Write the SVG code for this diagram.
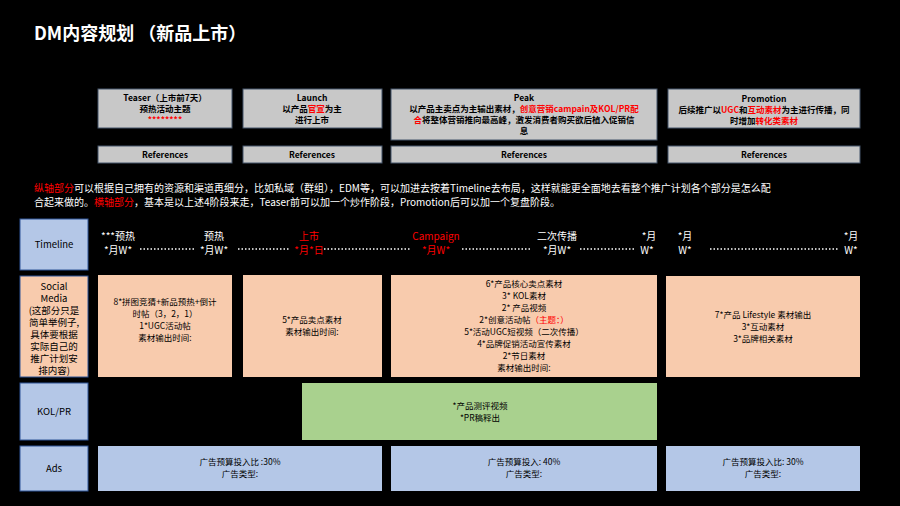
<svg xmlns="http://www.w3.org/2000/svg" width="900" height="506" viewBox="0 0 900 506">
<style>
text{font-family:"Noto Sans CJK SC","Liberation Sans",sans-serif;text-anchor:middle}
.h{fill:#c8c8c8;stroke:#44546a;stroke-width:1}
.ht{font-size:8.5px;fill:#000;font-weight:bold}
.lab{fill:#b4c7e7;stroke:#2f5597}
.labt{font-size:9.5px;fill:#000}
.o{fill:#f8cbad}
.g{fill:#a9d18e}
.b{fill:#b4c7e7}
.bt{font-size:8.5px;fill:#000}
.tl{font-size:10px;fill:#fff}
.red{fill:#ff0000}
.dot{stroke:#fff;stroke-width:1.5;stroke-dasharray:1.5 2}
</style>
<rect width="900" height="506" fill="#000"/>
<text x="34" y="40" style="text-anchor:start;font-size:18px;font-weight:bold;fill:#fff">DM内容规划 （新品上市）</text>
<g id="teaser"><rect class="h" x="98" y="89" width="134" height="39"/>
<text class="ht" x="165" y="101">Teaser（上市前7天）</text><text class="ht" x="165" y="112">预热活动主题</text><text class="ht red" x="165" y="123">********</text></g>
<g id="launch"><rect class="h" x="243" y="89" width="139" height="39"/>
<text class="ht" x="312" y="101">Launch</text><text class="ht" x="312" y="112">以产品<tspan class="red">官宣</tspan>为主</text><text class="ht" x="312" y="123">进行上市</text></g>
<g id="peak"><rect class="h" x="391" y="89" width="266" height="51"/>
<text class="ht" x="524" y="101">Peak</text>
<text class="ht" x="524" y="112">以产品主卖点为主输出素材，<tspan class="red">创意营销campain及KOL/PR配</tspan></text>
<text class="ht" x="524" y="123"><tspan class="red">合</tspan>将整体营销推向最高峰，激发消费者购买欲后植入促销信</text>
<text class="ht" x="524" y="134">息</text></g>
<g id="promotion"><rect class="h" x="668" y="89" width="192" height="39"/>
<text class="ht" x="764" y="102">Promotion</text>
<text class="ht" x="764" y="113">后续推广以<tspan class="red">UGC</tspan>和<tspan class="red">互动素材</tspan>为主进行传播，同</text>
<text class="ht" x="764" y="124">时增加<tspan class="red">转化类素材</tspan></text></g>
<g id="refs">
<rect class="h" x="98" y="146" width="134" height="17"/><text class="ht" x="165" y="158">References</text>
<rect class="h" x="243" y="146" width="139" height="17"/><text class="ht" x="312" y="158">References</text>
<rect class="h" x="391" y="146" width="266" height="17"/><text class="ht" x="524" y="158">References</text>
<rect class="h" x="668" y="146" width="192" height="17"/><text class="ht" x="764" y="158">References</text></g>
<g id="note" style="font-size:10px;fill:#fff">
<text x="34" y="192" style="text-anchor:start"><tspan class="red">纵轴部分</tspan>可以根据自己拥有的资源和渠道再细分，比如私域（群组），EDM等，可以加进去按着Timeline去布局，这样就能更全面地去看整个推广计划各个部分是怎么配</text>
<text x="34" y="206" style="text-anchor:start">合起来做的。<tspan class="red">横轴部分</tspan>，基本是以上述4阶段来走，Teaser前可以加一个炒作阶段，Promotion后可以加一个复盘阶段。</text></g>
<g id="labels">
<rect class="lab" x="20" y="219" width="68" height="51"/><text class="labt" x="54" y="248">Timeline</text>
<rect class="lab" x="20" y="276" width="68" height="101" style="fill:#f8cbad"/>
<text class="labt" x="54" y="290">Social</text><text class="labt" x="54" y="302">Media</text>
<text class="labt" x="54" y="314">(这部分只是</text><text class="labt" x="54" y="326">简单举例子,</text><text class="labt" x="54" y="338">具体要根据</text><text class="labt" x="54" y="350">实际自己的</text><text class="labt" x="54" y="362">推广计划安</text><text class="labt" x="54" y="374">排内容)</text>
<rect class="lab" x="20" y="383" width="68" height="57"/><text class="labt" x="54" y="415">KOL/PR</text>
<rect class="lab" x="20" y="446" width="68" height="45"/><text class="labt" x="54" y="472">Ads</text></g>
<g id="timeline">
<text class="tl" x="118" y="240">***预热</text><text class="tl" x="118" y="254">*月W*</text>
<text class="tl" x="214" y="240">预热</text><text class="tl" x="214" y="254">*月W*</text>
<text class="tl red" x="309" y="240">上市</text><text class="tl red" x="309" y="254">*月*日</text>
<text class="tl red" x="436" y="240">Campaign</text><text class="tl red" x="436" y="254">*月W*</text>
<text class="tl" x="557" y="240">二次传播</text><text class="tl" x="557" y="254">*月W*</text>
<text class="tl" x="649" y="240">*月</text><text class="tl" x="647" y="254">W*</text>
<text class="tl" x="685" y="240">*月</text><text class="tl" x="685" y="254">W*</text>
<text class="tl" x="851" y="240">*月</text><text class="tl" x="851" y="254">W*</text></g>
<g id="connectors">
<line class="dot" x1="140" y1="249" x2="195" y2="249"/>
<line class="dot" x1="238" y1="249" x2="290" y2="249"/>
<line class="dot" x1="324" y1="249" x2="410" y2="249"/>
<line class="dot" x1="462" y1="249" x2="530" y2="249"/>
<line class="dot" x1="580" y1="249" x2="636" y2="249"/>
<line class="dot" x1="710" y1="249" x2="838" y2="249"/></g>
<g id="social">
<rect class="o" x="98" y="275" width="134" height="102"/>
<text class="bt" x="165" y="305">8*拼图竞猜+新品预热+倒计</text><text class="bt" x="165" y="317">时帖（3，2，1）</text><text class="bt" x="165" y="329">1*UGC活动帖</text><text class="bt" x="165" y="341">素材输出时间:</text>
<rect class="o" x="243" y="275" width="139" height="102"/>
<text class="bt" x="312" y="323">5*产品卖点素材</text><text class="bt" x="312" y="335">素材输出时间:</text>
<rect class="o" x="391" y="275" width="266" height="102"/>
<text class="bt" x="524" y="287">6*产品核心卖点素材</text><text class="bt" x="524" y="299">3* KOL素材</text><text class="bt" x="524" y="311">2* 产品视频</text>
<text class="bt" x="524" y="323">2*创意活动帖<tspan class="red">（主题：）</tspan></text><text class="bt" x="524" y="335">5*活动UGC短视频（二次传播）</text>
<text class="bt" x="524" y="347">4*品牌促销活动宣传素材</text><text class="bt" x="524" y="359">2*节日素材</text><text class="bt" x="524" y="371">素材输出时间:</text>
<rect class="o" x="666" y="276" width="194" height="101"/>
<text class="bt" x="763" y="318">7*产品 Lifestyle 素材输出</text><text class="bt" x="763" y="330">3*互动素材</text><text class="bt" x="763" y="342">3*品牌相关素材</text></g>
<g id="kol"><rect class="g" x="302" y="383" width="355" height="57"/>
<text class="bt" x="480" y="409">*产品测评视频</text><text class="bt" x="480" y="421">*PR稿释出</text></g>
<g id="ads">
<rect class="b" x="98" y="446" width="284" height="45"/><text class="bt" x="240" y="465">广告预算投入比 :30%</text><text class="bt" x="240" y="477">广告类型:</text>
<rect class="b" x="391" y="446" width="266" height="45"/><text class="bt" x="524" y="465">广告预算投入: 40%</text><text class="bt" x="524" y="477">广告类型:</text>
<rect class="b" x="666" y="446" width="194" height="45"/><text class="bt" x="763" y="465">广告预算投入比: 30%</text><text class="bt" x="763" y="477">广告类型:</text></g>
</svg>
